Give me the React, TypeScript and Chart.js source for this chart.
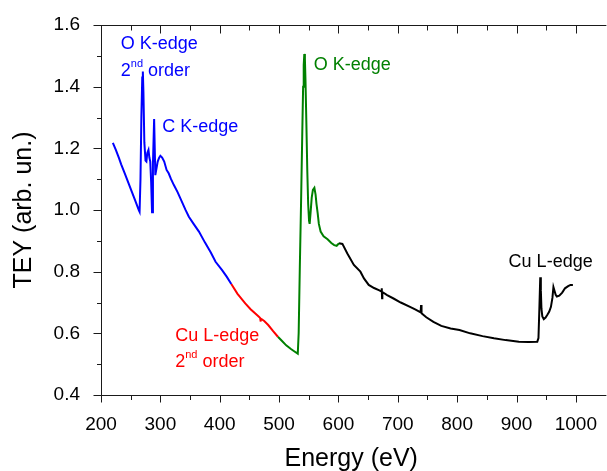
import React, { useEffect, useRef } from 'react';
import { Chart, registerables } from 'chart.js';

Chart.register(...registerables);

// ---- data (Energy in eV, TEY in arb. units) ----
const blueEnergy = [220, 225, 230, 234, 240, 246, 252, 258, 264, 265, 266.5, 268, 269.5, 270.5, 271.5, 273, 275, 276.5, 278, 280, 281.5, 283, 284.5, 286, 287.5, 289.5, 291.5, 293.5, 295.5, 298, 300, 303, 306.5, 310.5, 314, 318, 323, 329, 336, 342, 348, 356, 365, 375, 385, 393, 404, 412, 419.5];
const blueTEY = [1.218, 1.195, 1.17, 1.148, 1.119, 1.089, 1.059, 1.029, 0.998, 0.994, 1.1, 1.3, 1.43, 1.449, 1.38, 1.22, 1.16, 1.157, 1.185, 1.195, 1.17, 1.157, 1.09, 0.993, 1.15, 1.295, 1.113, 1.135, 1.157, 1.17, 1.176, 1.17, 1.157, 1.13, 1.119, 1.1, 1.08, 1.058, 1.028, 1.002, 0.978, 0.955, 0.93, 0.895, 0.862, 0.832, 0.805, 0.783, 0.76];

const redEnergy = [419.5, 430, 443, 452, 459.5, 466, 468, 468.7, 469.5, 475, 481.7, 490, 498];
const redTEY = [0.76, 0.728, 0.697, 0.678, 0.665, 0.654, 0.65, 0.638, 0.648, 0.64, 0.627, 0.607, 0.589];

const greenEnergy = [498, 505, 512, 520, 526, 531.5, 533, 535, 537, 539, 540.5, 541.5, 542.5, 543.5, 544.5, 546, 547.5, 549, 550.5, 551.5, 553, 555, 557, 559.5, 561.5, 563, 565, 567, 570, 575, 581.7, 588, 592.8, 597, 601];
const greenTEY = [0.589, 0.575, 0.561, 0.549, 0.541, 0.534, 0.6, 0.82, 1.02, 1.24, 1.4, 1.47, 1.506, 1.49, 1.42, 1.28, 1.13, 1.02, 0.965, 0.955, 0.99, 1.04, 1.065, 1.072, 1.05, 1.02, 0.99, 0.955, 0.93, 0.915, 0.905, 0.893, 0.886, 0.884, 0.892];

const blackEnergy = [601, 606.7, 615, 626, 637, 643, 651, 660, 668, 672.5, 673, 673.5, 674, 682, 692.8, 705, 720.6, 730, 738.5, 739.2, 740, 748, 760, 773.3, 789, 803.9, 822, 842.8, 862, 881.7, 903.9, 920, 935, 937, 938.5, 940, 941, 942, 943.5, 946, 949, 952, 955, 958, 960.5, 962.2, 964, 966, 968, 972, 977, 981.7, 987, 991, 995];
const blackTEY = [0.892, 0.89, 0.859, 0.822, 0.8, 0.778, 0.757, 0.747, 0.74, 0.736, 0.746, 0.714, 0.734, 0.724, 0.713, 0.7, 0.686, 0.677, 0.668, 0.692, 0.665, 0.652, 0.637, 0.624, 0.616, 0.611, 0.6, 0.591, 0.584, 0.578, 0.573, 0.572, 0.573, 0.585, 0.68, 0.782, 0.74, 0.68, 0.655, 0.646, 0.651, 0.66, 0.67, 0.686, 0.715, 0.75, 0.738, 0.725, 0.719, 0.722, 0.732, 0.746, 0.753, 0.757, 0.757];

const xMajorTicks = [200, 300, 400, 500, 600, 700, 800, 900, 1000];
const xMinorTicks = [250, 350, 450, 550, 650, 750, 850, 950];
const yMajorTicks = [0.4, 0.6, 0.8, 1.0, 1.2, 1.4, 1.6];
const yMinorTicks = [0.5, 0.7, 0.9, 1.1, 1.3, 1.5];

// annotation labels ("|" separates base, superscript, rest)
const labelTexts = ['O K-edge', '2|nd|order', 'C K-edge', 'O K-edge', 'Cu L-edge', 'Cu L-edge', '2|nd|order'];
const labelEnergy = [233.3, 233.3, 303.3, 558.3, 886.7, 325, 325];
const labelTEY = [1.522, 1.435, 1.253, 1.454, 0.815, 0.575, 0.492];
const labelColors = ['#0000ff', '#0000ff', '#0000ff', '#008000', '#000000', '#ff0000', '#ff0000'];

const FONT = '"Liberation Sans", Arial, sans-serif';

const toPoints = (xs: number[], ys: number[]) => xs.map((x, i) => ({ x, y: ys[i] }));

const framePlugin = {
  id: 'frame',
  afterDatasetsDraw(chart: any) {
    const { ctx, chartArea: a, scales } = chart;
    const xs = scales.x;
    const ys = scales.y;
    ctx.save();
    ctx.strokeStyle = '#1a1a1a';
    ctx.lineWidth = 1;
    ctx.beginPath();
    const L = Math.round(a.left) + 0.5;
    const B = Math.round(a.bottom) + 0.5;
    const T = Math.round(a.top) + 0.5;
    ctx.moveTo(L, a.top);
    ctx.lineTo(L, a.bottom + 1);
    ctx.moveTo(a.left, B);
    ctx.lineTo(a.right + 5, B);
    ctx.moveTo(a.left, T);
    ctx.lineTo(a.right + 5, T);
    xMajorTicks.forEach((v) => {
      const p = Math.round(xs.getPixelForValue(v)) + 0.5;
      ctx.moveTo(p, B);
      ctx.lineTo(p, B + 7);
      ctx.moveTo(p, T);
      ctx.lineTo(p, T + 8);
    });
    xMinorTicks.forEach((v) => {
      const p = Math.round(xs.getPixelForValue(v)) + 0.5;
      ctx.moveTo(p, B);
      ctx.lineTo(p, B + 4.5);
      ctx.moveTo(p, T);
      ctx.lineTo(p, T + 5);
    });
    yMajorTicks.forEach((v) => {
      const p = Math.round(ys.getPixelForValue(v)) + 0.5;
      ctx.moveTo(L, p);
      ctx.lineTo(L - 8, p);
    });
    yMinorTicks.forEach((v) => {
      const p = Math.round(ys.getPixelForValue(v)) + 0.5;
      ctx.moveTo(L, p);
      ctx.lineTo(L - 4.5, p);
    });
    ctx.stroke();

    // annotations
    ctx.textBaseline = 'alphabetic';
    ctx.textAlign = 'left';
    labelTexts.forEach((t, i) => {
      const px = xs.getPixelForValue(labelEnergy[i]);
      const py = ys.getPixelForValue(labelTEY[i]);
      ctx.fillStyle = labelColors[i];
      const parts = t.split('|');
      ctx.font = `18px ${FONT}`;
      if (parts.length === 1) {
        ctx.fillText(t, px, py);
      } else {
        ctx.fillText(parts[0], px, py);
        let cx = px + ctx.measureText(parts[0]).width;
        ctx.font = `11px ${FONT}`;
        ctx.fillText(parts[1], cx, py - 9);
        cx += ctx.measureText(parts[1]).width;
        ctx.font = `18px ${FONT}`;
        cx += ctx.measureText(' ').width;
        ctx.fillText(parts[2], cx, py);
      }
    });
    ctx.restore();
  },
};

export default function App() {
  const ref = useRef<HTMLCanvasElement | null>(null);

  useEffect(() => {
    if (!ref.current) return;
    const line = (xs: number[], ys: number[], color: string) => ({
      data: toPoints(xs, ys),
      borderColor: color,
      backgroundColor: color,
      borderWidth: 2,
      pointRadius: 0,
      tension: 0,
      fill: false,
    });
    const chart = new Chart(ref.current, {
      type: 'line',
      data: {
        datasets: [
          line(blueEnergy, blueTEY, '#0000ff'),
          line(redEnergy, redTEY, '#ff0000'),
          line(greenEnergy, greenTEY, '#008000'),
          line(blackEnergy, blackTEY, '#000000'),
        ] as any,
      },
      options: {
        animation: false,
        responsive: false,
        events: [],
        layout: { padding: { top: 25, left: 0, right: 0, bottom: 0 } },
        plugins: { legend: { display: false }, tooltip: { enabled: false } },
        scales: {
          x: {
            type: 'linear',
            min: 200,
            max: 1043,
            grid: { display: false },
            border: { display: false },
            afterBuildTicks: (s: any) => {
              s.ticks = xMajorTicks.map((v) => ({ value: v }));
            },
            ticks: {
              color: '#000',
              font: { family: FONT, size: 19 },
              padding: 10,
              maxRotation: 0,
              autoSkip: false,
              callback: (v: any) => String(v),
            },
            title: {
              display: true,
              text: 'Energy (eV)',
              color: '#000',
              font: { family: FONT, size: 25 },
              padding: { top: 0, bottom: 6 },
            },
            afterFit: (s: any) => {
              s.height = 85;
            },
          },
          y: {
            type: 'linear',
            min: 0.4,
            max: 1.6,
            grid: { display: false },
            border: { display: false },
            afterBuildTicks: (s: any) => {
              s.ticks = yMajorTicks.map((v) => ({ value: v }));
            },
            ticks: {
              color: '#000',
              font: { family: FONT, size: 19 },
              padding: 13,
              autoSkip: false,
              callback: (v: any) => Number(v).toFixed(1),
            },
            title: {
              display: true,
              text: 'TEY (arb. un.)',
              color: '#000',
              font: { family: FONT, size: 25 },
              padding: { top: 9, bottom: 0 },
            },
            afterFit: (s: any) => {
              s.width = 101;
            },
          },
        },
      } as any,
      plugins: [framePlugin],
    });
    return () => chart.destroy();
  }, []);

  return (
    <div
      style={{
        position: 'fixed',
        left: 0,
        top: 0,
        width: 607,
        height: 471,
        overflow: 'hidden',
        background: '#fff',
      }}
    >
      <canvas ref={ref} width={607} height={480} style={{ display: 'block', width: 607, height: 480 }} />
    </div>
  );
}
